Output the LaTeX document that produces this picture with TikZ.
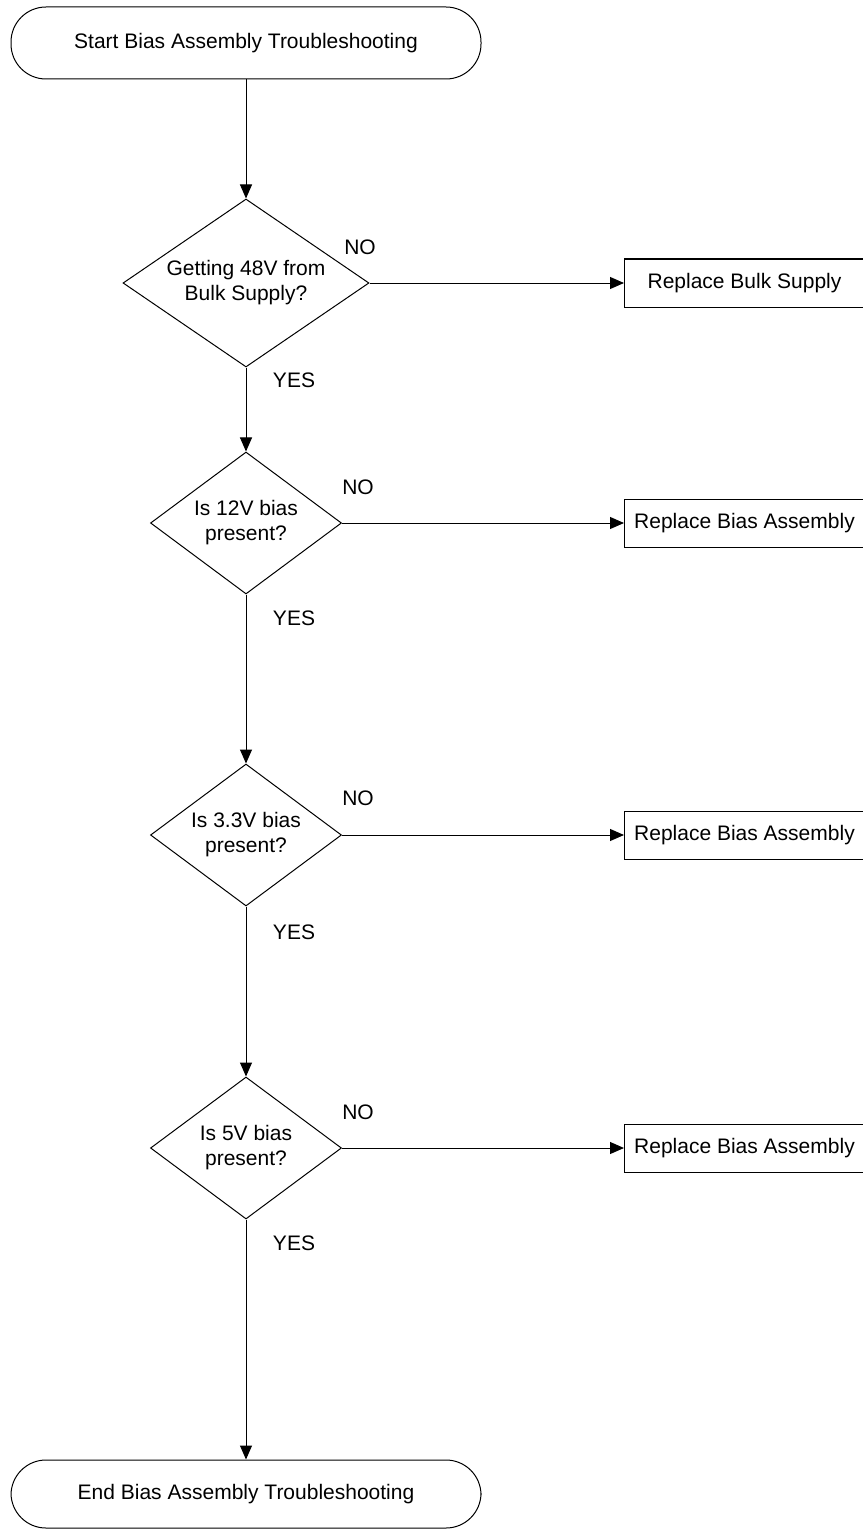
\documentclass[tikz,border=0pt]{standalone}
\usepackage{fontspec}
\setmainfont{Liberation Sans}
\usetikzlibrary{shapes.geometric,arrows.meta}

\begin{document}
\begin{tikzpicture}[x=1pt,y=-1pt,line width=1pt,
  font=\fontsize{21}{25}\selectfont,
  terminal/.style={draw,rounded corners=35pt,minimum width=470pt,minimum height=72pt,inner sep=0pt},
  check/.style={draw,diamond,aspect=1.35,align=center,inner sep=0pt,minimum width=191pt,minimum height=142pt},
  action/.style={draw,anchor=west,minimum width=240pt,minimum height=48pt,inner sep=0pt},
  flow/.style={-{Triangle[length=14pt,width=12pt]}}]
  \useasboundingbox (0,0) rectangle (862,1530);
  % Start
  \node[terminal] (start) at (246,43) {Start Bias Assembly Troubleshooting};
  % Checks
  \node[check,aspect=1.46,minimum width=246pt,minimum height=168pt] (bulk) at (246,283) {Getting 48V from\\Bulk Supply?};
  \node[check] (bias12) at (246,523) {Is 12V bias\\present?};
  \node[check] (bias33) at (246,835) {Is 3.3V bias\\present?};
  \node[check] (bias5) at (246,1148) {Is 5V bias\\present?};
  % End
  \node[terminal,minimum height=68pt] (stop) at (246,1494) {End Bias Assembly Troubleshooting};
  % Replacements
  \node[action] (rbulk) at (624,283) {Replace Bulk Supply};
  \node[action] (rbias12) at (624,523) {Replace Bias Assembly};
  \node[action] (rbias33) at (624,835) {Replace Bias Assembly};
  \node[action] (rbias5) at (624,1148) {Replace Bias Assembly};
  % Main line
  \draw[flow] (start) -- (bulk);
  \draw[flow] (bulk) -- (bias12);
  \draw[flow] (bias12) -- (bias33);
  \draw[flow] (bias33) -- (bias5);
  \draw[flow] (bias5) -- (stop);
  % Side branches
  \draw[flow] (bulk) -- (rbulk);
  \draw[flow] (bias12) -- (rbias12);
  \draw[flow] (bias33) -- (rbias33);
  \draw[flow] (bias5) -- (rbias5);
  % Answers
  \node (no1) at (360,247) {NO};
  \node (yes1) at (294,380) {YES};
  \node (no2) at (358,487) {NO};
  \node (yes2) at (294,618) {YES};
  \node (no3) at (358,798) {NO};
  \node (yes3) at (294,932) {YES};
  \node (no4) at (358,1112) {NO};
  \node (yes4) at (294,1243) {YES};
\end{tikzpicture}
\end{document}
